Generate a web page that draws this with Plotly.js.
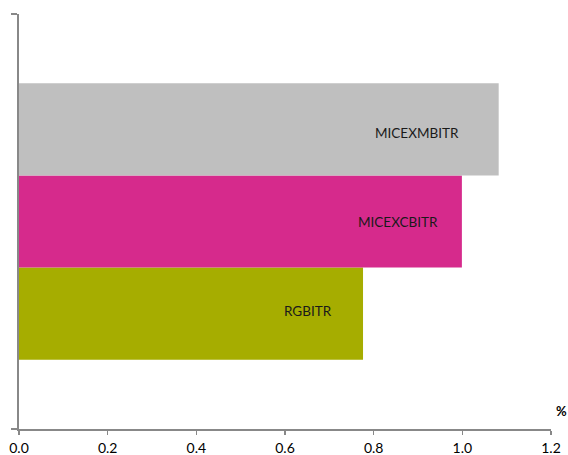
<!DOCTYPE html>
<html>
<head>
<meta charset="utf-8">
<script src="https://cdn.plot.ly/plotly-3.0.1.min.js"></script>
<style>html,body{margin:0;padding:0;background:#fff;}#chart{width:568px;height:455px;}</style>
</head>
<body>
<div id="chart"></div>
<script>
// Data (bottom to top)
const seriesNames = ["RGBITR", "MICEXCBITR", "MICEXMBITR"];
const seriesValues = [0.776, 0.999, 1.082];
const seriesColors = ["#A6AD00", "#D62A8C", "#BFBFBF"];
const labelX = [0.652, 0.855, 0.897];
const labelShift = [3, 0, -4];
const xTicks = [0, 0.2, 0.4, 0.6, 0.8, 1.0, 1.2];
const unitLabel = "%";

const FONT = "Lato, 'Open Sans', 'Liberation Sans', sans-serif";
const barGap = 1/3;
const barWidth = (1 - barGap) / seriesNames.length;

const traces = seriesNames.map((name, i) => ({
  type: "bar",
  orientation: "h",
  name: name,
  x: [seriesValues[i]],
  y: [0],
  marker: { color: seriesColors[i], line: { width: 0 } },
  hoverinfo: "skip"
}));

const annotations = seriesNames.map((name, i) => ({
  text: name,
  x: labelX[i],
  y: (i - (seriesNames.length - 1) / 2) * barWidth,
  xref: "x", yref: "y",
  yshift: labelShift[i],
  showarrow: false,
  font: { family: FONT, size: 13.5, color: "#1a1a1a" }
}));
annotations.push({
  text: "<b>" + unitLabel + "</b>",
  xref: "paper", yref: "paper",
  x: 1, y: 0, xanchor: "center", yanchor: "middle",
  xshift: 10, yshift: 18,
  showarrow: false,
  font: { family: FONT, size: 13, color: "#000" }
});

const layout = {
  width: 568, height: 455,
  margin: { l: 19, r: 17, t: 14, b: 26 },
  paper_bgcolor: "#fff", plot_bgcolor: "#fff",
  barmode: "group",
  bargap: barGap,
  bargroupgap: 0,
  showlegend: false,
  font: { family: FONT, size: 13, color: "#000" },
  xaxis: {
    range: [0, 1.2],
    tickvals: xTicks,
    tickformat: ".1f",
    ticks: "outside", ticklen: 4, tickcolor: "#888", tickwidth: 1.5,
    ticklabelstandoff: 1,
    showline: true, linecolor: "#888", linewidth: 2,
    showgrid: false, zeroline: false,
    tickfont: { family: FONT, size: 14, color: "#000" }
  },
  yaxis: {
    range: [-0.5, 0.5],
    tickvals: [-0.5, 0.5],
    showticklabels: false,
    ticks: "outside", ticklen: 6, tickcolor: "#888", tickwidth: 1.5,
    showline: true, linecolor: "#888", linewidth: 2,
    showgrid: false, zeroline: false
  },
  annotations: annotations
};

Plotly.newPlot("chart", traces, layout, { displayModeBar: false, staticPlot: true });
</script>
</body>
</html>
